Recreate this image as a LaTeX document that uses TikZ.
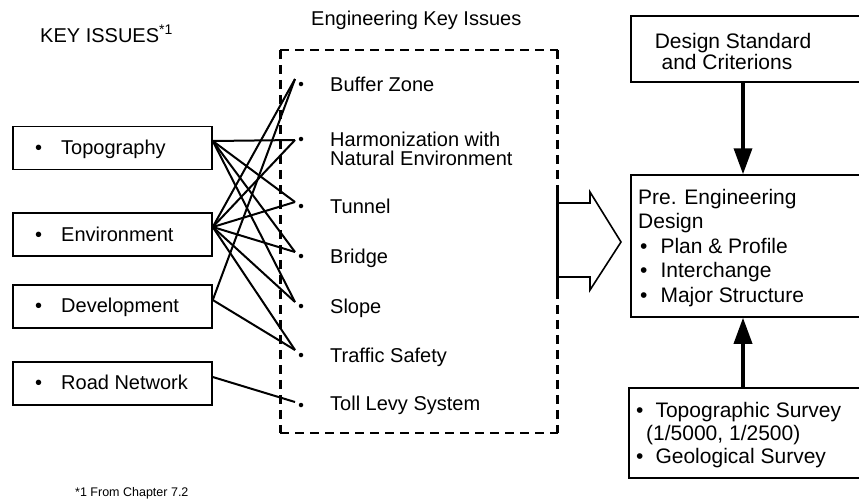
\documentclass[tikz,border=0pt]{standalone}
\usepackage{fontspec}
\setmainfont{Liberation Sans}
\usetikzlibrary{arrows.meta,calc}
\begin{document}
\begin{tikzpicture}[x=1pt,y=-1pt,
  lbl/.style={font=\fontsize{20}{24}\selectfont, inner sep=0pt, anchor=base west},
  rlbl/.style={font=\fontsize{21}{24}\selectfont, inner sep=0pt, anchor=base west},
  keybox/.style={draw, line width=1.5pt, minimum width=199pt, minimum height=43pt, inner sep=0pt},
  rbox/.style={draw, line width=1.5pt, inner sep=0pt},
  link/.style={line width=2pt},
  itemdot/.style={circle, fill, inner sep=0pt, minimum size=4.5pt},
  vdash/.style={line width=3pt, dash pattern=on 9pt off 6pt},
  hdash/.style={line width=1.8pt, dash pattern=on 9pt off 6pt},
  flow/.style={line width=3.5pt, -{Triangle[length=26pt,width=18pt]}},
  bigarrow/.style={line width=1.6pt, line join=miter},
]
\useasboundingbox (0,0) rectangle (859,499);
\clip (0,0) rectangle (859,499);

% titles and footnote
\node[lbl] (keytitle) at (40,42) {KEY ISSUES\textsuperscript{*1}};
\node[lbl] (engtitle) at (311,25) {Engineering Key Issues};
\node[lbl, font=\fontsize{12.5}{15}\selectfont] (note) at (75,496) {*1 From Chapter 7.2};

% left key-issue boxes
\node[keybox] (topo) at (112.5,148) {};
\node[keybox] (env)  at (112.5,234.5) {};
\node[keybox] (dev)  at (112.5,306.5) {};
\node[keybox] (road) at (112.5,383.5) {};
\node[lbl] (topoT) at (35,154) {\textbullet\hspace{19pt}Topography};
\node[lbl] (envT)  at (35,241) {\textbullet\hspace{19pt}Environment};
\node[lbl] (devT)  at (35,312) {\textbullet\hspace{19pt}Development};
\node[lbl] (roadT) at (35,389) {\textbullet\hspace{19pt}Road Network};

% origins on the right edges of the left boxes
\coordinate (oT) at (topo.east |- 0,141);
\coordinate (oE) at (env.east |- 0,227);
\coordinate (oD) at (dev.east |- 0,300);
\coordinate (oR) at (road.east |- 0,377);

% dashed container
\node[minimum width=277pt, minimum height=383pt, inner sep=0pt] (eng) at (419,241.5) {};
\draw[vdash] (eng.north west) -- (eng.south west);
\draw[vdash] (eng.north east) -- (eng.south east);
\draw[hdash] (eng.north west) -- (eng.north east);
\draw[hdash] (eng.south west) -- (eng.south east);

% items
\node[itemdot] (dBZ) at (301,84) {};
\node[itemdot] (dHZ) at (301,139) {};
\node[itemdot] (dTU) at (301,206) {};
\node[itemdot] (dBR) at (301,256) {};
\node[itemdot] (dSL) at (301,306) {};
\node[itemdot] (dTS) at (301,355) {};
\node[itemdot] (dTL) at (301,405) {};
\node[lbl] (tBZ) at (330,91) {Buffer Zone};
\node[lbl] (tHZ) at (330,146) {Harmonization with};
\node[lbl] (tHZ2) at (330,165) {Natural Environment};
\node[lbl] (tTU) at (330,213) {Tunnel};
\node[lbl] (tBR) at (330,263) {Bridge};
\node[lbl] (tSL) at (330,313) {Slope};
\node[lbl] (tTS) at (330,362) {Traffic Safety};
\node[lbl] (tTL) at (330,410) {Toll Levy System};

% convergence points just left of the dots
\coordinate (cBZ) at ($(dBZ)+(-6,-5)$);
\coordinate (cHZ) at ($(dHZ)+(-6,1)$);
\coordinate (cTU) at ($(dTU)+(-6,-4)$);
\coordinate (cBR) at ($(dBR)+(-6,-4)$);
\coordinate (cSL) at ($(dSL)+(-6,-4)$);
\coordinate (cTS) at ($(dTS)+(-6,-5)$);
\coordinate (cTL) at ($(dTL)+(-6,-3)$);

% connectors
\draw[link] (oT) -- (cHZ);
\draw[link] (oT) -- (cTU);
\draw[link] (oT) -- (cBR);
\draw[link] (oT) -- (cSL);
\draw[link] (oE) -- (cBZ);
\draw[link] (oE) -- (cHZ);
\draw[link] (oE) -- (cTU);
\draw[link] (oE) -- (cBR);
\draw[link] (oE) -- (cSL);
\draw[link] (oE) -- (cTS);
\draw[link] (oD) -- (cBZ);
\draw[link] (oD) -- (cTS);
\draw[link] (oR) -- (cTL);

% big open arrow leaving the dashed box
\draw[line width=3pt] (eng.east |- 0,192) -- (eng.east |- 0,290);
\draw[bigarrow] (eng.east |- 0,203) -- (590,203) -- (590,192) -- (621,242) -- (590,290) -- (590,277) -- (eng.east |- 0,277);

% right boxes (open to the right edge)
\node[rbox, minimum width=245pt, minimum height=66pt] (dsgn) at (753.5,49) {};
\node[rbox, minimum width=245pt, minimum height=142pt] (pre) at (753.5,246) {};
\node[rbox, minimum width=247pt, minimum height=90pt] (surv) at (752.5,433) {};

\node[rlbl, anchor=base] (dsgnA) at (733,48) {Design Standard};
\node[rlbl, anchor=base] (dsgnB) at (727,69) {and Criterions};

\node[rlbl] (preA) at (638,204) {Pre. Engineering};
\node[rlbl] (preB) at (638,228) {Design};
\node[rlbl] (preC) at (640,253) {\textbullet\hspace{13pt}Plan \& Profile};
\node[rlbl] (preD) at (640,277) {\textbullet\hspace{13pt}Interchange};
\node[rlbl] (preE) at (640,302) {\textbullet\hspace{13pt}Major Structure};

\node[rlbl] (survA) at (636,417) {\textbullet\hspace{12pt}Topographic Survey};
\node[rlbl] (survB) at (646,440) {(1/5000, 1/2500)};
\node[rlbl] (survC) at (636,463) {\textbullet\hspace{12pt}Geological Survey};

\coordinate (ax) at (743,0);
\draw[flow] (dsgn.south -| ax) -- (pre.north -| ax);
\draw[flow] (surv.north -| ax) -- (pre.south -| ax);
\end{tikzpicture}
\end{document}
